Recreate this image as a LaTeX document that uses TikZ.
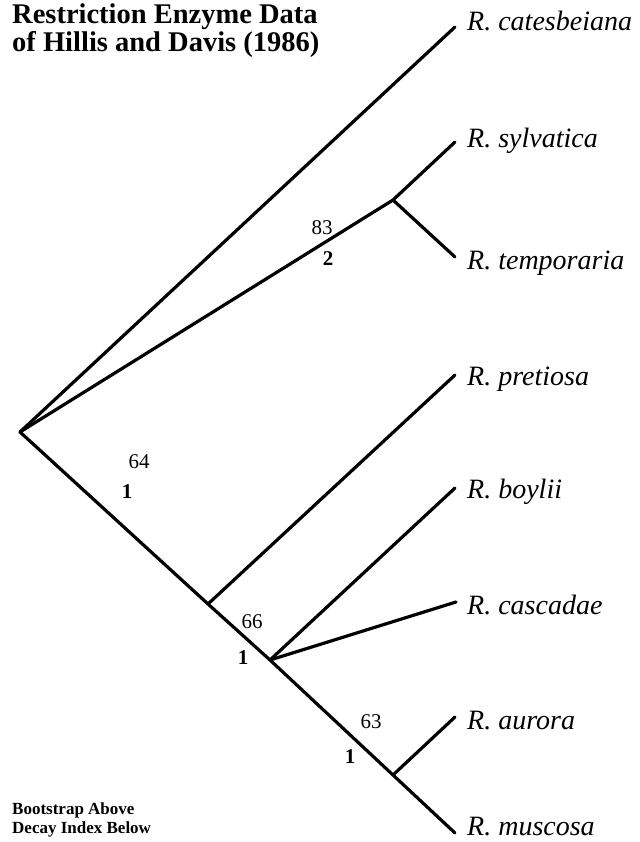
\documentclass[tikz,border=0pt]{standalone}
\usepackage{fontspec}
\setmainfont{Liberation Serif}
\begin{document}
\begin{tikzpicture}[x=1pt,y=-1pt,
  br/.style={line width=3.2pt,line cap=round},
  sp/.style={anchor=west,inner sep=0pt,font=\fontsize{28}{30}\selectfont\itshape},
  bs/.style={inner sep=0pt,font=\fontsize{21}{22}\selectfont},
  di/.style={inner sep=0pt,font=\fontsize{21}{22}\selectfont\bfseries},
  ttl/.style={anchor=north west,inner sep=0pt,align=left,font=\fontsize{28.5}{24}\selectfont\bfseries}]
\useasboundingbox (0,0) rectangle (639,842);
% internal nodes
\coordinate (root) at (20,432);
\coordinate (nST) at (393,200);
\coordinate (nP) at (208,604);
\coordinate (nBC) at (270,660);
\coordinate (nAM) at (393,775);
% leaf ends
\coordinate (lCat) at (455,27);
\coordinate (lSyl) at (455,142);
\coordinate (lTem) at (455,257);
\coordinate (lPre) at (455,375);
\coordinate (lBoy) at (455,488);
\coordinate (lCas) at (456,602);
\coordinate (lAur) at (455,717);
\coordinate (lMus) at (455,833);
% branches
\draw[br] (root) -- (lCat);
\draw[br] (root) -- (nST) -- (lSyl);
\draw[br] (nST) -- (lTem);
\draw[br] (root) -- (nP) -- (nBC) -- (nAM) -- (lMus);
\draw[br] (nP) -- (lPre);
\draw[br] (nBC) -- (lBoy);
\draw[br] (nBC) -- (lCas);
\draw[br] (nAM) -- (lAur);
% species labels
\node[sp] (tCat) at (467,21) {R. catesbeiana};
\node[sp] (tSyl) at (467,141) {R. sylvatica};
\node[sp] (tTem) at (467,263) {R. temporaria};
\node[sp] (tPre) at (467,379) {R. pretiosa};
\node[sp] (tBoy) at (467,492) {R. boylii};
\node[sp] (tCas) at (467,605) {R. cascadae};
\node[sp] (tAur) at (467,721) {R. aurora};
\node[sp] (tMus) at (467,827) {R. muscosa};
% support values
\node[bs] (b83) at (322,228) {83};
\node[di] (d2) at (328,259) {2};
\node[bs] (b64) at (139,462) {64};
\node[di] (d64) at (127,492) {1};
\node[bs] (b66) at (252,622) {66};
\node[di] (d66) at (243,658) {1};
\node[bs] (b63) at (371,722) {63};
\node[di] (d63) at (350,757) {1};
% titles
\node[ttl] (title) at (12,4) {Restriction Enzyme Data\\of Hillis and Davis (1986)};
\node[anchor=north west,inner sep=0pt,align=left,font=\fontsize{17}{19}\selectfont\bfseries] (legend) at (12,802) {Bootstrap Above\\Decay Index Below};
\end{tikzpicture}
\end{document}
